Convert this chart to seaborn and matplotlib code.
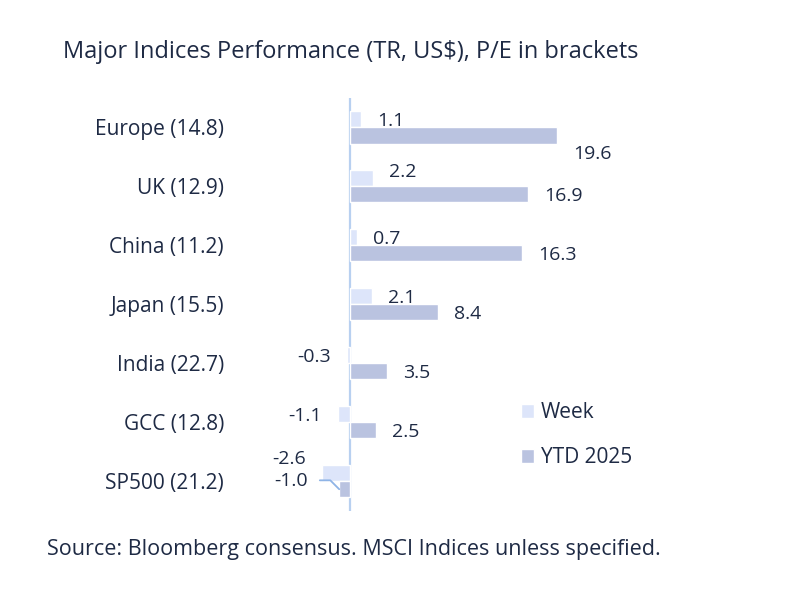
import matplotlib
matplotlib.use("Agg")
import matplotlib.pyplot as plt
import seaborn as sns
import pandas as pd

categories = ["Europe (14.8)", "UK (12.9)", "China (11.2)", "Japan (15.5)",
              "India (22.7)", "GCC (12.8)", "SP500 (21.2)"]
series = ["Week", "YTD 2025"]
week = [1.1, 2.2, 0.7, 2.1, -0.3, -1.1, -2.6]
ytd = [19.6, 16.9, 16.3, 8.4, 3.5, 2.5, -1.0]

TEXT = "#1e2a44"
COLORS = {"Week": "#dde5fa", "YTD 2025": "#bac3e0"}

df = pd.DataFrame({"index": categories, "Week": week, "YTD 2025": ytd})
df = df.melt(id_vars="index", var_name="series", value_name="value")

sns.set_style("white")
plt.rcParams["font.family"] = ["Open Sans", "DejaVu Sans"]

fig = plt.figure(figsize=(8, 6), dpi=100)
ax = fig.add_axes([0.292, 0.149, 0.528, 0.688])

sns.barplot(data=df, y="index", x="value", hue="series", hue_order=series,
            palette=COLORS, width=0.55, orient="h", ax=ax, saturation=1)

ax.set_xlim(-11, 29)
ax.set_ylim(6.5, -0.5)
ax.axvline(0, color="#b8d0f0", lw=1.6, zorder=0)
sns.despine(ax=ax, left=True, bottom=True)
ax.set_xticks([])
ax.set_xlabel("")
ax.set_ylabel("")
ax.tick_params(axis="y", length=0, pad=7, labelsize=15, labelcolor=TEXT)

# data labels, with a few manual nudges (pixels)
LBL = 14
nudges = {("Week", 1): (0, 8), ("YTD 2025", 0): (0, -17), ("Week", 6): (0, 16)}
for s, cont in zip(series, ax.containers):
    for i, bar in enumerate(cont):
        val = bar.get_x() + bar.get_width()
        yc = bar.get_y() + bar.get_height() / 2
        if s == "YTD 2025" and i == 6:
            ax.annotate(f"{val:.1f}", xy=(val, yc), xytext=(-31, 8),
                        textcoords="offset pixels", ha="right", va="center",
                        fontsize=LBL, color=TEXT,
                        arrowprops=dict(arrowstyle="-", color="#8fb4e6", lw=1.3,
                                        relpos=(1.0, 0.55), shrinkA=6, shrinkB=0,
                                        connectionstyle="angle,angleA=0,angleB=-45,rad=0"))
            continue
        dx, dy = nudges.get((s, i), (0, 0))
        if val >= 0:
            ax.annotate(f"{val:.1f}", xy=(val, yc), xytext=(16 + dx, -2 + dy),
                        textcoords="offset pixels", ha="left", va="center",
                        fontsize=LBL, color=TEXT)
        else:
            ax.annotate(f"{val:.1f}", xy=(val, yc), xytext=(-16 + dx, -2 + dy),
                        textcoords="offset pixels", ha="right", va="center",
                        fontsize=LBL, color=TEXT)

ax.legend(loc="upper left", bbox_to_anchor=(0.651, 0.33), bbox_transform=fig.transFigure,
          frameon=False, fontsize=15, handlelength=0.65, handleheight=0.65,
          handletextpad=0.3, labelspacing=1.15, labelcolor=TEXT,
          borderpad=0, borderaxespad=0)

fig.text(0.079, 1 - 52 / 600, "Major Indices Performance (TR, US$), P/E in brackets",
         fontsize=17, color=TEXT, va="center", ha="left")
fig.text(0.059, 1 - 550 / 600, "Source: Bloomberg consensus. MSCI Indices unless specified.",
         fontsize=15.5, color=TEXT, va="center", ha="left")

fig.savefig("out.png", dpi=100)
